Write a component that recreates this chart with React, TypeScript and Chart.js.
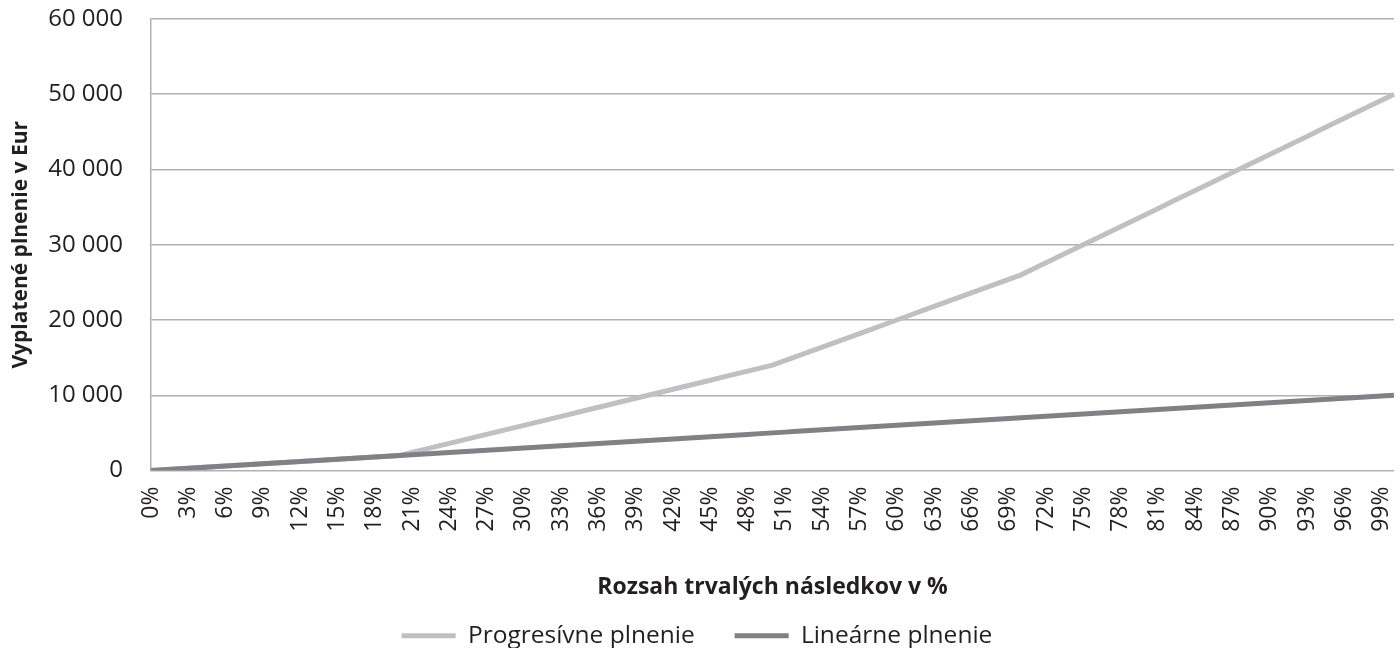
import React, { useEffect, useRef } from "react";
import { Chart, registerables } from "chart.js";

Chart.register(...registerables);

const categories: string[] = [
  "0%", "1%", "2%", "3%", "4%", "5%", "6%", "7%", "8%", "9%",
  "10%", "11%", "12%", "13%", "14%", "15%", "16%", "17%", "18%", "19%",
  "20%", "21%", "22%", "23%", "24%", "25%", "26%", "27%", "28%", "29%",
  "30%", "31%", "32%", "33%", "34%", "35%", "36%", "37%", "38%", "39%",
  "40%", "41%", "42%", "43%", "44%", "45%", "46%", "47%", "48%", "49%",
  "50%", "51%", "52%", "53%", "54%", "55%", "56%", "57%", "58%", "59%",
  "60%", "61%", "62%", "63%", "64%", "65%", "66%", "67%", "68%", "69%",
  "70%", "71%", "72%", "73%", "74%", "75%", "76%", "77%", "78%", "79%",
  "80%", "81%", "82%", "83%", "84%", "85%", "86%", "87%", "88%", "89%",
  "90%", "91%", "92%", "93%", "94%", "95%", "96%", "97%", "98%", "99%",
  "100%",
];

const progresivne: number[] = [
  0, 100, 200, 300, 400, 500, 600, 700, 800, 900,
  1000, 1100, 1200, 1300, 1400, 1500, 1600, 1700, 1800, 1900,
  2000, 2400, 2800, 3200, 3600, 4000, 4400, 4800, 5200, 5600,
  6000, 6400, 6800, 7200, 7600, 8000, 8400, 8800, 9200, 9600,
  10000, 10400, 10800, 11200, 11600, 12000, 12400, 12800, 13200, 13600,
  14000, 14600, 15200, 15800, 16400, 17000, 17600, 18200, 18800, 19400,
  20000, 20600, 21200, 21800, 22400, 23000, 23600, 24200, 24800, 25400,
  26000, 26800, 27600, 28400, 29200, 30000, 30800, 31600, 32400, 33200,
  34000, 34800, 35600, 36400, 37200, 38000, 38800, 39600, 40400, 41200,
  42000, 42800, 43600, 44400, 45200, 46000, 46800, 47600, 48400, 49200,
  50000,
];

const linearne: number[] = [
  0, 100, 200, 300, 400, 500, 600, 700, 800, 900,
  1000, 1100, 1200, 1300, 1400, 1500, 1600, 1700, 1800, 1900,
  2000, 2100, 2200, 2300, 2400, 2500, 2600, 2700, 2800, 2900,
  3000, 3100, 3200, 3300, 3400, 3500, 3600, 3700, 3800, 3900,
  4000, 4100, 4200, 4300, 4400, 4500, 4600, 4700, 4800, 4900,
  5000, 5100, 5200, 5300, 5400, 5500, 5600, 5700, 5800, 5900,
  6000, 6100, 6200, 6300, 6400, 6500, 6600, 6700, 6800, 6900,
  7000, 7100, 7200, 7300, 7400, 7500, 7600, 7700, 7800, 7900,
  8000, 8100, 8200, 8300, 8400, 8500, 8600, 8700, 8800, 8900,
  9000, 9100, 9200, 9300, 9400, 9500, 9600, 9700, 9800, 9900,
  10000,
];

const seriesNames = ["Progresívne plnenie", "Lineárne plnenie"];
const yTitle = "Vyplatené plnenie v Eur";
const xTitle = "Rozsah trvalých následkov v %";

const FONT = "'Open Sans', 'DejaVu Sans', sans-serif";
const TEXT = "#231f20";
const GRID = "#b1b1b5";

function fmt(v: number): string {
  return String(v).replace(/\B(?=(\d{3})+(?!\d))/g, " ");
}

function zeroPad(s: any) {
  s.paddingLeft = 0;
  s.paddingRight = 0;
  s.paddingTop = 0;
  s.paddingBottom = 0;
}

export default function App() {
  const ref = useRef<HTMLCanvasElement | null>(null);

  useEffect(() => {
    if (!ref.current) return;
    const chart = new Chart(ref.current, {
      type: "line",
      data: {
        labels: categories,
        datasets: [
          {
            label: seriesNames[1],
            data: linearne,
            borderColor: "#808085",
            backgroundColor: "#808085",
            borderWidth: 5,
            pointRadius: 0,
            tension: 0,
          },
          {
            label: seriesNames[0],
            data: progresivne,
            borderColor: "#c0c0c4",
            backgroundColor: "#c0c0c4",
            borderWidth: 5,
            pointRadius: 0,
            tension: 0,
          },
        ],
      },
      options: {
        animation: false,
        responsive: true,
        maintainAspectRatio: false,
        layout: { padding: { top: 19, right: 6, left: 0, bottom: -10 } },
        plugins: {
          tooltip: { enabled: false },
          legend: {
            position: "bottom",
            reverse: true,
            labels: {
              usePointStyle: true,
              pointStyle: "line",
              pointStyleWidth: 54,
              padding: 40,
              color: TEXT,
              font: { family: FONT, size: 24.5 },
            },
          },
        },
        scales: {
          x: {
            offset: false,
            grid: { display: false, drawTicks: false },
            border: { display: false },
            ticks: {
              autoSkip: false,
              maxRotation: 90,
              minRotation: 90,
              padding: 16,
              color: TEXT,
              font: { family: FONT, size: 23 },
              callback: (_v: any, i: number) => (i % 3 === 0 ? categories[i] : ""),
            },
            title: {
              display: true,
              text: xTitle,
              color: TEXT,
              font: { family: FONT, size: 23, weight: "bold" },
              padding: { top: 0, bottom: -18 },
            },
            afterFit: (s: any) => {
              s.height = 113;
              zeroPad(s);
            },
          },
          y: {
            min: 0,
            max: 60000,
            grid: { color: GRID, lineWidth: 1.5, drawTicks: false },
            border: { display: true, color: GRID, width: 1.5 },
            ticks: {
              stepSize: 10000,
              padding: 28,
              color: TEXT,
              font: { family: FONT, size: 24 },
              callback: (v: any) => fmt(Number(v)),
            },
            title: {
              display: true,
              text: yTitle,
              color: TEXT,
              font: { family: FONT, size: 21, weight: "bold" },
              padding: { top: 8, bottom: 0 },
            },
            afterFit: (s: any) => {
              s.width = 151;
              zeroPad(s);
            },
          },
        },
      },
    });
    return () => chart.destroy();
  }, []);

  return (
    <div style={{ position: "absolute", left: 0, top: 0, width: 1400, height: 648, background: "#fff" }}>
      <canvas ref={ref} />
    </div>
  );
}
